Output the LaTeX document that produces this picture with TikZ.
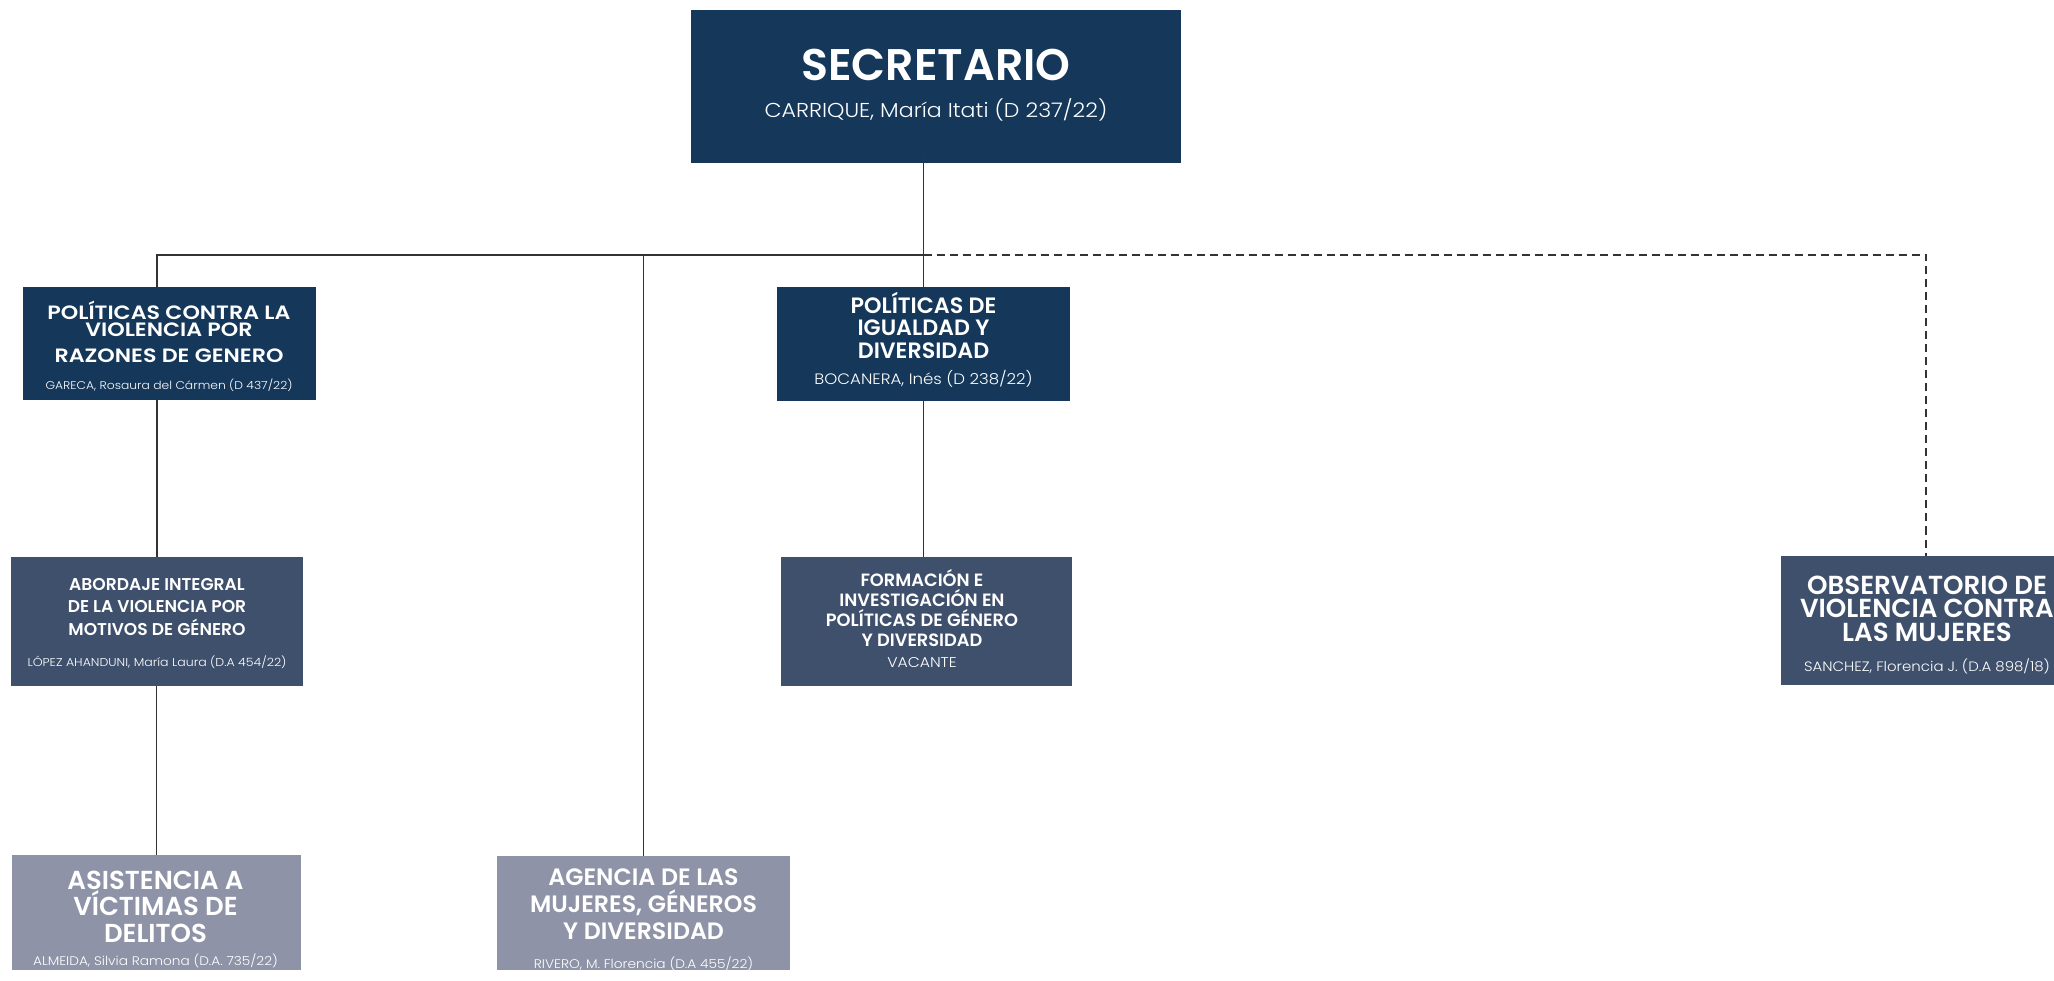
\documentclass[tikz,border=0pt]{standalone}
\usepackage{fontspec}
\setmainfont{Poppins}
\newfontfamily\titulo{Poppins SemiBold}
\newfontfamily\tituloancho{Poppins SemiBold}[FakeStretch=1.15]
\newfontfamily\nombre{Poppins Light}[FakeStretch=1.1]
\usetikzlibrary{positioning}
\lineskiplimit=-1000pt
\newcommand{\tope}{\rule{0pt}{1.1em}}
\definecolor{azul}{HTML}{14375A}
\definecolor{pizarra}{HTML}{3F506C}
\definecolor{gris}{HTML}{8E93A7}
\definecolor{trazo}{HTML}{333333}
\tikzset{%
	caja/.style     = {rectangle, inner sep=0pt, minimum width=292pt},
	nivel1/.style   = {caja, fill=azul}, % direcciones
	nivel2/.style   = {caja, fill=pizarra}, % areas
	nivel3/.style   = {caja, fill=gris}, % agencias
	rotulo/.style   = {text=white, align=center, inner sep=0pt, anchor=north},
	linea/.style    = {draw=trazo, line width=1.4pt}
}

\begin{document}
\begin{tikzpicture}[x=1pt,y=-1pt]
	\useasboundingbox (0,0) rectangle (2054,981);
	\clip (0,0) rectangle (2054,981);
	\fill[white] (0,0) rectangle (2054,981);

	% cajas
	\node[nivel1, minimum width=490pt, minimum height=153pt] (sec) at (936,86.5) {};
	\node[nivel1, minimum width=293pt, minimum height=113pt] (pol1) at (169.5,343.5) {};
	\node[nivel1, minimum width=293pt, minimum height=114pt] (pol2) at (923.5,344) {};
	\node[nivel2, minimum height=129pt] (abo) at (157,621.5) {};
	\node[nivel2, minimum width=291pt, minimum height=129pt] (for) at (926.5,621.5) {};
	\node[nivel2, minimum width=290pt, minimum height=129pt] (obs) at (1926,620.5) {};
	\node[nivel3, minimum width=289pt, minimum height=115pt] (asi) at (156.5,912.5) {};
	\node[nivel3, minimum width=293pt, minimum height=114pt] (age) at (643.5,913) {};

	% textos
	\node[rotulo, font=\titulo\fontsize{44.3}{37}\selectfont] (sec-t) at (936,31.3)
		{\tope SECRETARIO\\{\nombre\fontsize{20.1}{20.1}\selectfont CARRIQUE, María Itati (D 237/22)}};
	\node[rotulo, font=\tituloancho\fontsize{19.3}{17.5}\selectfont] (pol1-t) at (169,297.8)
		{\tope POLÍTICAS CONTRA LA\\VIOLENCIA POR\\[8.5pt] RAZONES DE GENERO\\[9pt]%
		{\nombre\fontsize{11.2}{11.2}\selectfont GARECA, Rosaura del Cármen (D 437/22)}};
	\node[rotulo, font=\titulo\fontsize{22.2}{22.5}\selectfont] (pol2-t) at (923.5,288.6)
		{\tope POLÍTICAS DE\\IGUALDAD Y\\DIVERSIDAD\\[3.5pt]%
		{\nombre\fontsize{15.1}{15.1}\selectfont BOCANERA, Inés (D 238/22)}};
	\node[rotulo, font=\titulo\fontsize{17.1}{22.5}\selectfont] (abo-t) at (157,571.2)
		{\tope ABORDAJE INTEGRAL\\DE LA VIOLENCIA POR\\MOTIVOS DE GÉNERO\\[8.5pt]%
		{\nombre\fontsize{11.4}{11.4}\selectfont LÓPEZ AHANDUNI, María Laura (D.A 454/22)}};
	\node[rotulo, font=\titulo\fontsize{17.8}{20.2}\selectfont] (for-t) at (922,566.4)
		{\tope FORMACIÓN E\\INVESTIGACIÓN EN\\POLÍTICAS DE GÉNERO\\Y DIVERSIDAD\\[1pt]%
		{\nombre\fontsize{14.2}{14.2}\selectfont VACANTE}};
	\node[rotulo, font=\titulo\fontsize{26.1}{23.5}\selectfont] (obs-t) at (1927,565.3)
		{\tope OBSERVATORIO DE\\VIOLENCIA CONTRA\\LAS MUJERES\\[7pt]%
		{\nombre\fontsize{13.6}{13.6}\selectfont SANCHEZ, Florencia J. (D.A 898/18)}};
	\node[rotulo, font=\titulo\fontsize{26}{26.25}\selectfont] (asi-t) at (155.5,860.9)
		{\tope ASISTENCIA A\\VÍCTIMAS DE\\DELITOS\\[-3.25pt]%
		{\nombre\fontsize{12.45}{12.45}\selectfont ALMEIDA, Silvia Ramona (D.A. 735/22)}};
	\node[rotulo, font=\titulo\fontsize{23.7}{27.25}\selectfont] (age-t) at (643.5,858.9)
		{\tope AGENCIA DE LAS\\MUJERES, GÉNEROS\\Y DIVERSIDAD\\[1.25pt]%
		{\nombre\fontsize{12.5}{12.5}\selectfont RIVERO, M. Florencia (D.A 455/22)}};

	% conectores
	\coordinate (rama) at (923.5,255);
	\draw[linea] ([yshift=15pt]sec.south -| rama) -- (rama |- pol2.north);
	\draw[linea] (rama) -| (abo.north |- pol1.north);
	\draw[linea] (age.north |- rama) -- (age.north);
	\draw[linea, dash pattern=on 8pt off 5pt] (rama) -| (obs.north);
	\draw[linea] (abo.north |- pol1.south) -- (abo.north);
	\draw[linea] (asi.north |- abo.south) -- (asi.north);
	\draw[linea] (pol2.south) -- (pol2.south |- for.north);
\end{tikzpicture}
\end{document}
